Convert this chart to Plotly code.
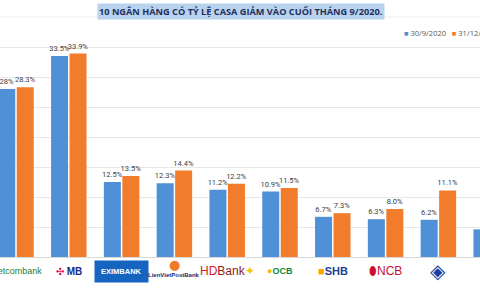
import plotly.graph_objects as go

banks = ["Vietcombank", "MB", "Eximbank", "LienVietPostBank", "HDBank",
         "OCB", "SHB", "NCB", "Saigonbank", "VietBank"]
s1_name = "30/9/2020"
s2_name = "31/12/2020"
s1 = [28.0, 33.5, 12.5, 12.3, 11.2, 10.9, 6.7, 6.3, 6.2, 4.6]
s2 = [28.3, 33.9, 13.5, 14.4, 12.2, 11.5, 7.3, 8.0, 11.1, 5.4]
s1_labels = ["28%", "33.5%", "12.5%", "12.3%", "11.2%", "10.9%", "6.7%", "6.3%", "6.2%", "4.6%"]
s2_labels = ["28.3%", "33.9%", "13.5%", "14.4%", "12.2%", "11.5%", "7.3%", "8.0%", "11.1%", "5.4%"]
logo_texts = [
    "<span style='color:#1f7a3a'>Vietcombank</span>",
    "<span style='color:#e4002b'>✣</span> <b style='color:#1a2a8a'>MB</b>",
    "<b style='color:#ffffff'>EXIMBANK</b>",
    "<b style='color:#1a2a6a'>LienVietPostBank</b>",
    "<span style='color:#d7191c'>HD</span><span style='color:#8b1a1a'>Bank</span><span style='color:#f5c400'>✦</span>",
    "<span style='color:#f5b800'>●</span><b style='color:#0a8a3a'>OCB</b>",
    "<span style='color:#f7a600'>■</span><b style='color:#1b3f94'>SHB</b>",
    "<span style='color:#c8102e'>⬮</span><span style='color:#c8102e'>NCB</span>",
    "<span style='color:#1a3fa0;font-size:20px'>◈</span>",
    "<b style='color:#1a2a6a'>VIETBANK</b>",
]
logo_sizes = [9, 10, 7.5, 6, 12, 9, 11, 12, 12, 6]
logo_dy = [14, 14, 14, 18, 14, 14, 14, 14, 14, 16]
c1 = "#4f90d6"
c2 = "#f07c2c"

x = list(range(len(banks)))

label_font = dict(size=7.5, color="#404040", family="Roboto")
fig = go.Figure()
fig.add_trace(go.Bar(x=x, y=s1, name=s1_name, marker=dict(color=c1, line=dict(width=0)),
                     text=s1_labels, textposition="outside", cliponaxis=False, constraintext="none",
                     textfont=label_font))
fig.add_trace(go.Bar(x=x, y=s2, name=s2_name, marker=dict(color=c2, line=dict(width=0)),
                     text=s2_labels, textposition="outside", cliponaxis=False, constraintext="none",
                     textfont=label_font))

annotations = [dict(
    text="<b>10 NGÂN HÀNG CÓ TỶ LỆ CASA GIẢM VÀO CUỐI THÁNG 9/2020.</b>",
    xref="paper", yref="paper", x=0.502, y=(257 - 11) / 216, xanchor="center", yanchor="middle",
    showarrow=False, font=dict(size=9.2, color="#1f2f5c", family="Open Sans"),
    bgcolor="#b9d3ee", borderpad=1)]
# legend drawn as annotations
annotations.append(dict(
    text=f"<span style='color:{c1}'>■</span> {s1_name}   <span style='color:{c2}'>■</span> {s2_name}",
    xref="paper", yref="paper", x=402 / 480, y=(257 - 33) / 216, xanchor="left", yanchor="middle",
    showarrow=False, font=dict(size=7.5, color="#595959", family="Open Sans")))
for i, t in enumerate(logo_texts):
    ann = dict(text=t, x=i, y=-logo_dy[i] / 216, xref="x", yref="paper",
               xanchor="center", yanchor="middle", showarrow=False,
               font=dict(size=logo_sizes[i], family="Liberation Sans"))
    if i == 2:
        ann["bgcolor"] = "#1565c0"
        ann["borderpad"] = 6
    annotations.append(ann)
# LienVietPostBank emblem above its name
annotations.append(dict(text="●", x=3, y=-7 / 216, xref="x", yref="paper", xanchor="center",
                        yanchor="middle", showarrow=False,
                        font=dict(size=13, color="#f07a2a", family="DejaVu Sans")))

fig.update_layout(
    width=480, height=288,
    margin=dict(l=0, r=0, t=41, b=31, autoexpand=False),
    paper_bgcolor="white", plot_bgcolor="white",
    barmode="group", bargap=0.30, bargroupgap=0.08,
    showlegend=False,
    xaxis=dict(range=[-0.303, 8.788], showticklabels=False, showgrid=False, zeroline=False,
               showline=True, linecolor="#d9d9d9", ticks=""),
    yaxis=dict(range=[0, 36], dtick=5, showticklabels=False, showgrid=True,
               gridcolor="#e8e8e8", zeroline=False),
    annotations=annotations,
    shapes=[dict(type="line", xref="paper", yref="paper", x0=0, x1=1,
                 y0=(257 - 17) / 216, y1=(257 - 17) / 216,
                 line=dict(color="#ececec", width=1))],
)

fig.write_html("out.html")
